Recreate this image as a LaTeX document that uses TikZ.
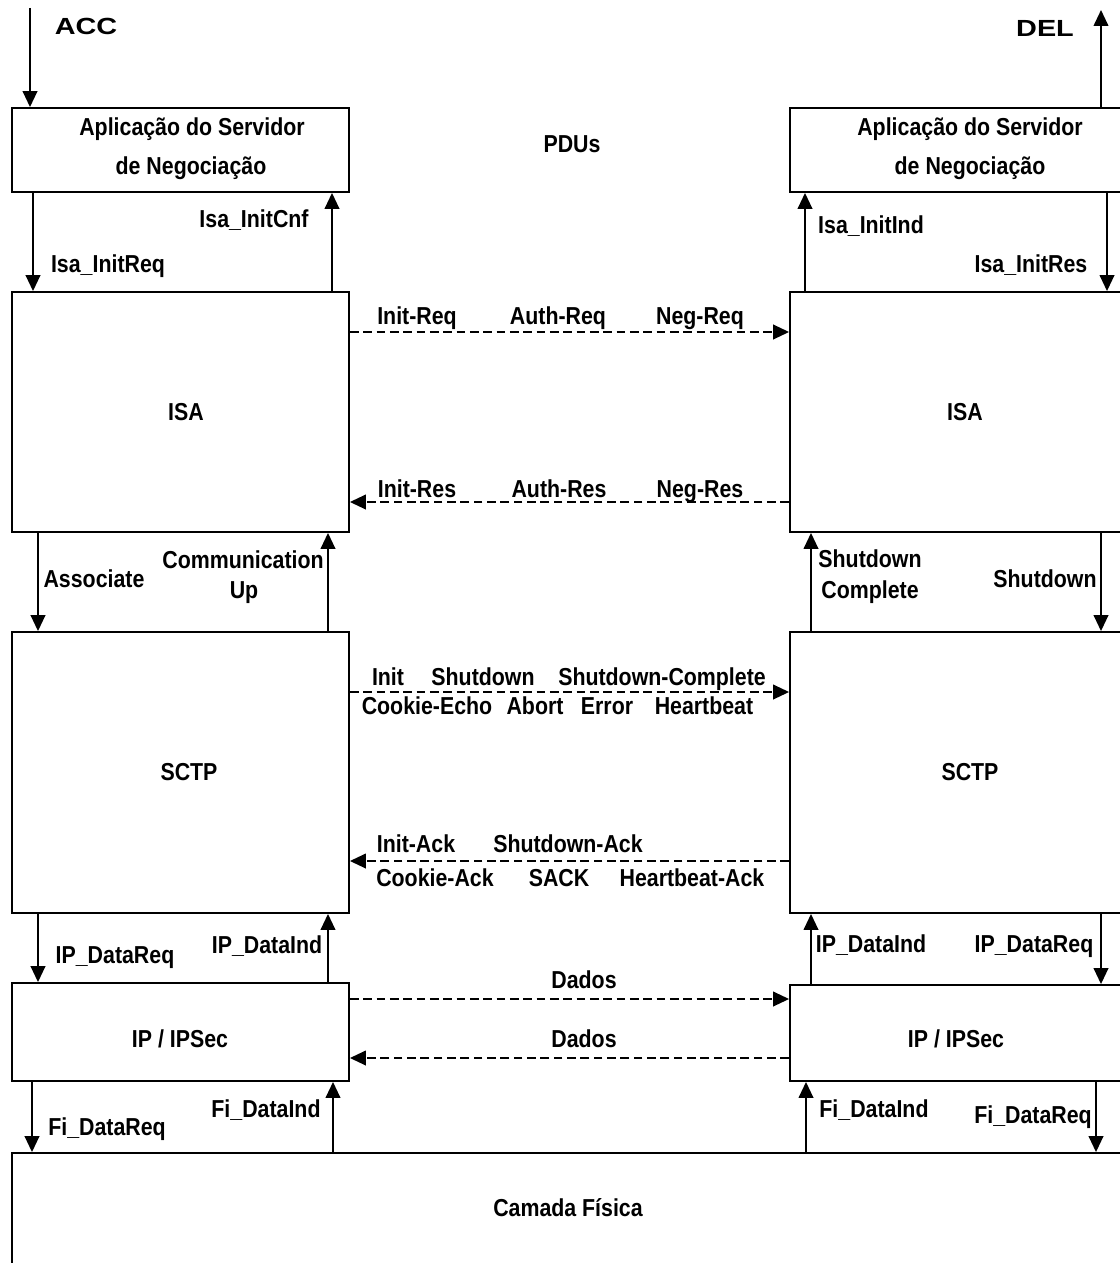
\documentclass[tikz,border=0pt]{standalone}
\usepackage{fontspec}
\setmainfont{Liberation Sans}[FakeStretch=0.87]
\usetikzlibrary{arrows.meta,fit}
\begin{document}
\begin{tikzpicture}[x=0.75pt,y=-0.75pt,
  layerbox/.style={draw, line width=1.4pt, rectangle, inner sep=0pt},
  lbl/.style={font=\fontsize{18.4}{22}\selectfont\bfseries, inner sep=0pt, anchor=base},
  biglbl/.style={font=\fontsize{17.5}{21}\selectfont\bfseries, inner sep=0pt, anchor=base},
  sig/.style={line width=1.4pt, -{Triangle[length=12pt,width=11pt]}},
  pdu/.style={sig, dash pattern=on 6.5pt off 3.5pt},
]
\useasboundingbox (0,0) rectangle (1120,1263);
\clip (0,0) rectangle (1120,1263);

% protocol stacks: left and right hosts, shared physical layer
\node[layerbox, fit={(12,108) (349,192)}]  (appL)  {};
\node[layerbox, fit={(12,292) (349,532)}]  (isaL)  {};
\node[layerbox, fit={(12,632) (349,913)}]  (sctpL) {};
\node[layerbox, fit={(12,983) (349,1081)}] (ipL)   {};
\node[layerbox, fit={(790,108) (1140,192)}]  (appR)  {};
\node[layerbox, fit={(790,292) (1140,532)}]  (isaR)  {};
\node[layerbox, fit={(790,632) (1140,913)}]  (sctpR) {};
\node[layerbox, fit={(790,985) (1140,1081)}] (ipR)   {};
\node[layerbox, fit={(12,1153) (1140,1300)}] (phy)   {};

% layer names
\node[lbl] (appL1) at (192,135) {Aplicação do Servidor};
\node[lbl] (appL2) at (191,174) {de Negociação};
\node[lbl] (appR1) at (970,135) {Aplicação do Servidor};
\node[lbl] (appR2) at (970,174) {de Negociação};
\node[lbl] (isaLt)  at (186,420) {ISA};
\node[lbl] (isaRt)  at (965,420) {ISA};
\node[lbl] (sctpLt) at (189,780) {SCTP};
\node[lbl] (sctpRt) at (970,780) {SCTP};
\node[lbl] (ipLt)   at (180,1047) {IP / IPSec};
\node[lbl] (ipRt)   at (956,1047) {IP / IPSec};
\node[lbl] (phyt)   at (568,1216) {Camada Física};
\node[lbl] (pdus)   at (572,152) {PDUs};
\node[biglbl] (acc) at (86,35) {\scalebox{1.42}[1]{ACC}};
\node[biglbl] (del) at (1045,37) {\scalebox{1.42}[1]{DEL}};

% x positions of the service primitives
\coordinate (xa) at (30,0);
\coordinate (xb) at (33,0);
\coordinate (xc) at (332,0);
\coordinate (xd) at (38,0);
\coordinate (xe) at (328,0);
\coordinate (xf) at (32,0);
\coordinate (xg) at (333,0);
\coordinate (ra) at (1101,0);
\coordinate (rb) at (805,0);
\coordinate (rc) at (1107,0);
\coordinate (rd) at (811,0);
\coordinate (re) at (806,0);
\coordinate (rf) at (1096,0);
\coordinate (accIn)  at (30,8);
\coordinate (delOut) at (1101,10);

% left host primitives
\draw[sig] (accIn) -- (appL.north -| xa);
\draw[sig] (appL.south -| xb) -- (isaL.north -| xb);
\draw[sig] (isaL.north -| xc) -- (appL.south -| xc);
\draw[sig] (isaL.south -| xd) -- (sctpL.north -| xd);
\draw[sig] (sctpL.north -| xe) -- (isaL.south -| xe);
\draw[sig] (sctpL.south -| xd) -- (ipL.north -| xd);
\draw[sig] (ipL.north -| xe) -- (sctpL.south -| xe);
\draw[sig] (ipL.south -| xf) -- (phy.north -| xf);
\draw[sig] (phy.north -| xg) -- (ipL.south -| xg);

% right host primitives
\draw[sig] (appR.north -| ra) -- (delOut);
\draw[sig] (isaR.north -| rb) -- (appR.south -| rb);
\draw[sig] (appR.south -| rc) -- (isaR.north -| rc);
\draw[sig] (sctpR.north -| rd) -- (isaR.south -| rd);
\draw[sig] (isaR.south -| ra) -- (sctpR.north -| ra);
\draw[sig] (ipR.north -| rd) -- (sctpR.south -| rd);
\draw[sig] (sctpR.south -| ra) -- (ipR.north -| ra);
\draw[sig] (phy.north -| re) -- (ipR.south -| re);
\draw[sig] (ipR.south -| rf) -- (phy.north -| rf);

% primitive labels
\node[lbl] (lInitReq) at (108,272) {Isa\_InitReq};
\node[lbl] (lInitCnf) at (254,227) {Isa\_InitCnf};
\node[lbl] (lInitInd) at (871,233) {Isa\_InitInd};
\node[lbl] (lInitRes) at (1031,272) {Isa\_InitRes};
\node[lbl] (lAssoc)   at (94,587) {Associate};
\node[lbl] (lComm1)   at (243,568) {Communication};
\node[lbl] (lComm2)   at (244,598) {Up};
\node[lbl] (lShC1)    at (870,567) {Shutdown};
\node[lbl] (lShC2)    at (870,598) {Complete};
\node[lbl] (lShut)    at (1045,587) {Shutdown};
\node[lbl] (lIPReqL)  at (115,963) {IP\_DataReq};
\node[lbl] (lIPIndL)  at (267,953) {IP\_DataInd};
\node[lbl] (lIPIndR)  at (871,952) {IP\_DataInd};
\node[lbl] (lIPReqR)  at (1034,952) {IP\_DataReq};
\node[lbl] (lFiReqL)  at (107,1135) {Fi\_DataReq};
\node[lbl] (lFiIndL)  at (266,1117) {Fi\_DataInd};
\node[lbl] (lFiIndR)  at (874,1117) {Fi\_DataInd};
\node[lbl] (lFiReqR)  at (1033,1123) {Fi\_DataReq};

% peer-to-peer PDU exchanges
\coordinate (ya) at (0,332);
\coordinate (yb) at (0,502);
\coordinate (yc) at (0,692);
\coordinate (yd) at (0,861);
\coordinate (ye) at (0,999);
\coordinate (yf) at (0,1058);
\draw[pdu] (isaL.east |- ya) -- (isaR.west |- ya);
\draw[pdu] (isaR.west |- yb) -- (isaL.east |- yb);
\draw[pdu] (sctpL.east |- yc) -- (sctpR.west |- yc);
\draw[pdu] (sctpR.west |- yd) -- (sctpL.east |- yd);
\draw[pdu] (ipL.east |- ye) -- (ipR.west |- ye);
\draw[pdu] (ipR.west |- yf) -- (ipL.east |- yf);

\node[lbl] (pInitReq) at (417,324) {Init-Req};
\node[lbl] (pAuthReq) at (558,324) {Auth-Req};
\node[lbl] (pNegReq)  at (700,324) {Neg-Req};
\node[lbl] (pInitRes) at (417,497) {Init-Res};
\node[lbl] (pAuthRes) at (559,497) {Auth-Res};
\node[lbl] (pNegRes)  at (700,497) {Neg-Res};

\node[lbl] (pInit)   at (388,685) {Init};
\node[lbl] (pShut)   at (483,685) {Shutdown};
\node[lbl] (pShutC)  at (662,685) {Shutdown-Complete};
\node[lbl] (pCookE)  at (427,714) {Cookie-Echo};
\node[lbl] (pAbort)  at (535,714) {Abort};
\node[lbl] (pError)  at (607,714) {Error};
\node[lbl] (pHeart)  at (704,714) {Heartbeat};

\node[lbl] (pInitA)  at (416,852) {Init-Ack};
\node[lbl] (pShutA)  at (568,852) {Shutdown-Ack};
\node[lbl] (pCookA)  at (435,886) {Cookie-Ack};
\node[lbl] (pSack)   at (559,886) {SACK};
\node[lbl] (pHeartA) at (692,886) {Heartbeat-Ack};

\node[lbl] (pDados1) at (584,988) {Dados};
\node[lbl] (pDados2) at (584,1047) {Dados};
\end{tikzpicture}
\end{document}
